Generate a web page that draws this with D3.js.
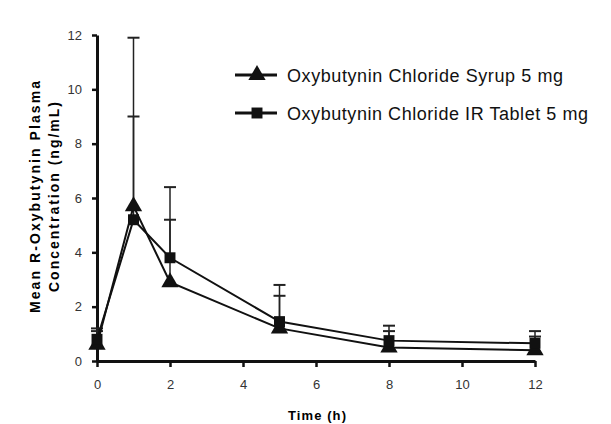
<!DOCTYPE html>
<html>
<head>
<meta charset="utf-8">
<title>R-Oxybutynin Plasma Concentration</title>
<script src="https://d3js.org/d3.v7.min.js"></script>
<style>
  body { margin: 0; background: #fff; }
  text { font-family: "Liberation Sans", Arial, sans-serif; }
</style>
</head>
<body>
<div id="chart"></div>
<script>
// data
const times = [0, 1, 2, 5, 8, 12];
const syrupMean = [0.6, 5.7, 2.9, 1.2, 0.5, 0.4];
const syrupUpper = [1.1, 11.9, 5.2, 2.4, 1.1, 0.9];
const tabletMean = [0.8, 5.2, 3.8, 1.45, 0.75, 0.65];
const tabletUpper = [1.2, 9.0, 6.4, 2.8, 1.3, 1.1];
const xTicks = [0, 2, 4, 6, 8, 10, 12];
const yTicks = [0, 2, 4, 6, 8, 10, 12];
const seriesNames = ["Oxybutynin Chloride Syrup 5 mg", "Oxybutynin Chloride IR Tablet 5 mg"];

const w = 611, h = 424;
const margin = { top: 35, right: 76, bottom: 63, left: 97 };
const width = w - margin.left - margin.right,
      height = h - margin.top - margin.bottom;

const svg = d3.select("#chart").append("svg")
    .attr("width", w)
    .attr("height", h)
  .append("g")
    .attr("transform", "translate(" + margin.left + "," + margin.top + ")");

const x = d3.scaleLinear().domain([0, 12]).range([0, width]);
const y = d3.scaleLinear().domain([0, 12]).range([height, 0]);

// axes
const xAxis = svg.append("g")
    .attr("transform", "translate(0," + height + ")")
    .call(d3.axisBottom(x).tickValues(xTicks).tickSize(6).tickSizeOuter(0).tickPadding(13));
const yAxis = svg.append("g")
    .call(d3.axisLeft(y).tickValues(yTicks).tickSize(5).tickSizeOuter(0).tickPadding(10));

[xAxis, yAxis].forEach(function(a) {
  a.select(".domain").attr("stroke", "#111").attr("stroke-width", 3);
  a.selectAll(".tick line").attr("stroke", "#111").attr("stroke-width", 2.5);
  a.selectAll(".tick text").attr("fill", "#333").style("font-size", "13px");
});

// axis titles
svg.append("text")
    .attr("x", 317 - margin.left)
    .attr("y", 420 - margin.top)
    .attr("text-anchor", "middle")
    .attr("textLength", 58)
    .style("font-size", "13px")
    .style("font-weight", "bold")
    .text("Time (h)");

const yl = svg.append("text")
    .attr("transform", "translate(" + (40 - margin.left) + "," + (197 - margin.top) + ") rotate(-90)")
    .attr("text-anchor", "middle")
    .style("font-size", "14px")
    .style("font-weight", "bold");
yl.append("tspan").attr("x", 0).attr("dy", 0).attr("textLength", 232).text("Mean R-Oxybutynin Plasma");
yl.append("tspan").attr("x", 0).attr("dy", 19).attr("textLength", 190).text("Concentration (ng/mL)");

const series = [
  { name: seriesNames[0], mean: syrupMean, upper: syrupUpper, shape: d3.symbolTriangle, size: 130, len: 276 },
  { name: seriesNames[1], mean: tabletMean, upper: tabletUpper, shape: d3.symbolSquare, size: 120, len: 301 }
];

const line = d3.line()
    .x(function(d) { return x(d.t); })
    .y(function(d) { return y(d.v); });

// error bars
series.forEach(function(s) {
  const pts = times.map(function(t, i) { return { t: t, v: s.mean[i], u: s.upper[i] }; });
  const eb = svg.append("g");
  eb.selectAll("line.v").data(pts).enter().append("line")
      .attr("x1", function(d) { return x(d.t); })
      .attr("x2", function(d) { return x(d.t); })
      .attr("y1", function(d) { return y(d.v); })
      .attr("y2", function(d) { return y(d.u); })
      .attr("stroke", "#222").attr("stroke-width", 1.5);
  eb.selectAll("line.c").data(pts).enter().append("line")
      .attr("x1", function(d) { return x(d.t) - 6; })
      .attr("x2", function(d) { return x(d.t) + 6; })
      .attr("y1", function(d) { return y(d.u); })
      .attr("y2", function(d) { return y(d.u); })
      .attr("stroke", "#222").attr("stroke-width", 2);
});

// lines + markers
series.forEach(function(s) {
  const pts = times.map(function(t, i) { return { t: t, v: s.mean[i] }; });
  svg.append("path")
      .datum(pts)
      .attr("fill", "none")
      .attr("stroke", "#111")
      .attr("stroke-width", 2)
      .attr("d", line);
  svg.selectAll(null).data(pts).enter().append("path")
      .attr("d", d3.symbol().type(s.shape).size(s.size))
      .attr("transform", function(d) { return "translate(" + x(d.t) + "," + y(d.v) + ")"; })
      .attr("fill", "#111");
});

// legend
const legend = svg.append("g").attr("transform", "translate(" + (235 - margin.left) + "," + (75 - margin.top) + ")");
series.forEach(function(s, i) {
  const g = legend.append("g").attr("transform", "translate(0," + (i * 38) + ")");
  g.append("line").attr("x1", 0).attr("x2", 42).attr("y1", 0).attr("y2", 0)
      .attr("stroke", "#111").attr("stroke-width", 3);
  g.append("path")
      .attr("d", d3.symbol().type(s.shape).size(s.size))
      .attr("transform", "translate(22,0)")
      .attr("fill", "#111");
  g.append("text")
      .attr("x", 52)
      .attr("y", 7)
      .attr("textLength", s.len)
      .style("font-size", "18px")
      .attr("fill", "#111")
      .text(s.name);
});
</script>
</body>
</html>
